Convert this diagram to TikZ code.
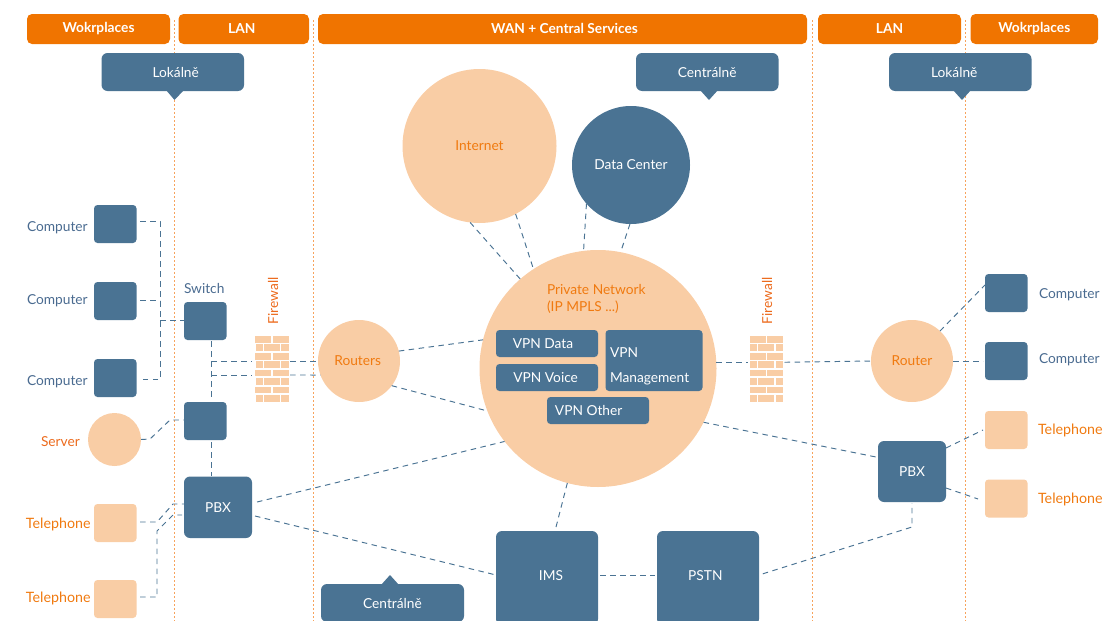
\documentclass[tikz,border=0pt]{standalone}
\usepackage{fontspec}
\setmainfont{Lato}
\definecolor{hdr}{HTML}{F07400}
\definecolor{bl}{HTML}{4A7393}
\definecolor{peach}{HTML}{F9CDA5}
\definecolor{lblblue}{HTML}{4A6B90}
\definecolor{lblor}{HTML}{F07A10}
\definecolor{lblred}{HTML}{EC6A1C}
\definecolor{dotc}{HTML}{F7A35C}
\tikzset{
  base/.style={inner sep=0pt,outer sep=0pt,font=\fontsize{10.3}{12}\selectfont},
  bluebox/.style={base,fill=bl,text=white,rounded corners=3.5*0.75pt},
  callout/.style={base,fill=bl,text=white,rounded corners=6*0.75pt},
  bigblue/.style={base,fill=bl,text=white,rounded corners=6*0.75pt},
  peachbox/.style={base,fill=peach,rounded corners=3.5*0.75pt},
  header/.style={base,fill=hdr,text=white,rounded corners=5*0.75pt,font=\fontsize{10.3}{12}\selectfont\bfseries},
  circ/.style={base,circle,fill=peach,text=lblor},
  circb/.style={base,circle,fill=bl,text=white},
  lab/.style={base,anchor=west},
  wire/.style={draw=bl,line width=0.72pt,dash pattern=on 5.5*0.75pt off 4.5*0.75pt},
  dotline/.style={draw=dotc,line width=0.75pt,dash pattern=on 1.5pt off 1.5pt},
  wall/.style={fill=peach},
  fwnode/.style={base,minimum width=33*0.75pt,minimum height=66*0.75pt},
}
% name, x1, y1, x2, y2, style, text
\newcommand{\bx}[7]{\node[#6,minimum width={(#4-#2)*0.75pt},minimum height={(#5-#3)*0.75pt}] (#1) at ({(#2+#4)/2},{(#3+#5)/2}) {#7};}
% name, cx, cy, radius, style, text
\newcommand{\crc}[6]{\node[#5,minimum size={2*#4*0.75pt}] (#1) at (#2,#3) {#6};}
% firewall: name, left x, top y
\newcommand{\brickwall}[3]{%
  \node[fwnode,anchor=north west] (#1) at (#2,#3) {};
  \foreach \i in {0,2,4,6} {
    \fill[wall] (#2,{#3+\i*8.43}) rectangle ++(16,6.7);
    \fill[wall] ({#2+17.5},{#3+\i*8.43}) rectangle ++(16,6.7);
    \fill[wall] ({#2+0.5},{#3+(\i+1)*8.43}) rectangle ++(7,6.7);
    \fill[wall] ({#2+8.5},{#3+(\i+1)*8.43}) rectangle ++(16,6.7);
    \fill[wall] ({#2+26},{#3+(\i+1)*8.43}) rectangle ++(7.5,6.7);
  }}
\begin{document}
\begin{tikzpicture}[x=0.75pt,y=-0.75pt]
\useasboundingbox (0,0) rectangle (1103,621);
% zone separators
\coordinate (s1t) at (174.5,20); \coordinate (s1b) at (174.5,621);
\coordinate (s2t) at (313.5,20); \coordinate (s2b) at (313.5,621);
\coordinate (s3t) at (812.5,20); \coordinate (s3b) at (812.5,621);
\coordinate (s4t) at (965,20);   \coordinate (s4b) at (965,621);
\draw[dotline] (s1t) -- (s1b);
\draw[dotline] (s2t) -- (s2b);
\draw[dotline] (s3t) -- (s3b);
\draw[dotline] (s4t) -- (s4b);
% headers
\bx{h1}{27}{14}{170}{44}{header}{\raisebox{0.75pt}{Wokrplaces}}
\bx{h2}{178.5}{14}{309}{44}{header}{\raisebox{0.75pt}{\hspace*{-3pt}LAN}}
\bx{h3}{318}{14}{807}{44}{header}{\raisebox{0.75pt}{\hspace*{3pt}WAN + Central Services}}
\bx{h4}{818}{14}{961}{44}{header}{\raisebox{0.75pt}{LAN}}
\bx{h5}{970.5}{14}{1098}{44}{header}{\raisebox{0.75pt}{Wokrplaces}}
% callouts
\fill[bl] (166,90) -- (174.5,100) -- (184,90) -- cycle;
\bx{c1}{101.5}{53}{244}{91}{callout}{\hspace*{4.5pt}Lokálně}
\fill[bl] (700,90) -- (709,100) -- (718,90) -- cycle;
\bx{c2}{636}{53}{778.5}{91}{callout}{Centrálně}
\fill[bl] (953,90) -- (962,100) -- (971,90) -- cycle;
\bx{c3}{889}{53}{1031.5}{91}{callout}{\hspace*{-9pt}Lokálně}
\fill[bl] (381,585) -- (390,575) -- (399,585) -- cycle;
\bx{c4}{321}{584}{464}{622}{callout}{Centrálně}
% left column
\bx{cl1}{94}{205}{136.5}{243}{bluebox}{}
\bx{cl2}{94}{282}{136.5}{320}{bluebox}{}
\bx{cl3}{94}{359}{136.5}{397}{bluebox}{}
\node[lab,text=lblblue] (tcl1) at (27,228) {Computer};
\node[lab,text=lblblue] (tcl2) at (27,301) {Computer};
\node[lab,text=lblblue] (tcl3) at (27,382) {Computer};
\crc{srv}{114.5}{439.5}{26.5}{circ}{}
\node[lab,text=lblred] (tsrv) at (41,442) {Server};
\bx{tl1}{94}{504}{136.5}{542}{peachbox}{}
\bx{tl2}{94}{580}{136.5}{618}{peachbox}{}
\node[lab,text=lblor,font=\fontsize{10.7}{12}\selectfont] (ttl1) at (26,524) {Telephone};
\node[lab,text=lblor,font=\fontsize{10.7}{12}\selectfont] (ttl2) at (26,598) {Telephone};
% LAN left
\bx{sw}{184}{302}{226.5}{340}{bluebox}{}
\node[lab,text=lblblue] (tsw) at (184,288) {Switch};
\bx{sw2}{184}{402}{226.5}{440}{bluebox}{}
\bx{pbxl}{184}{476.5}{252}{538}{bigblue}{PBX}
\brickwall{fwl}{255}{336}
\node[base,text=lblred,rotate=90] (tfwl) at (273,301) {Firewall};
% WAN
\crc{rts}{359}{361}{41}{circ}{\raisebox{0.75pt}{\hspace*{-2pt}Routers}}
\crc{inet}{479.5}{146}{77}{circ}{Internet}
\crc{dc}{631}{165}{59}{circb}{Data Center}
\crc{priv}{598}{368.5}{118.5}{circ}{}
\node[lab,text=lblor,align=left,font=\fontsize{10.3}{12.75}\selectfont] (tpriv) at (547,298.5) {Private Network\\(IP MPLS ...)};
\bx{vd}{496}{330}{598}{357}{bluebox}{\hspace*{-6pt}VPN Data}
\bx{vv}{496}{364}{598}{391}{bluebox}{\hspace*{-2pt}VPN Voice}
\bx{vm}{605.5}{330}{702.5}{391}{bluebox}{}
\node[lab,text=white,align=left,font=\fontsize{10.3}{18.75}\selectfont] (tvm) at (610,366) {VPN\\Management};
\bx{vo}{547}{397}{649}{424}{bluebox}{\hspace*{-14pt}VPN Other}
\bx{ims}{496}{531}{598}{625}{bigblue}{\raisebox{3pt}{\hspace*{6pt}IMS}}
\bx{pstn}{657}{531}{759}{625}{bigblue}{\raisebox{3pt}{\hspace*{-4pt}PSTN}}
% right side
\brickwall{fwr}{749.5}{336}
\node[base,text=lblred,rotate=90] (tfwr) at (767,301) {Firewall};
\crc{rtr}{912}{361}{41}{circ}{Router}
\bx{pbxr}{878}{441}{946}{502}{bigblue}{PBX}
\bx{cr1}{985}{274}{1027.5}{312}{bluebox}{}
\bx{cr2}{985}{342}{1027.5}{380}{bluebox}{}
\bx{tr1}{985}{411}{1027.5}{449}{peachbox}{}
\bx{tr2}{985}{479.5}{1027.5}{517.5}{peachbox}{}
\node[lab,text=lblblue] (tcr1) at (1039,295) {Computer};
\node[lab,text=lblblue] (tcr2) at (1039,360) {Computer};
\node[lab,text=lblor,font=\fontsize{10.7}{12}\selectfont] (ttr1) at (1038,430) {Telephone};
\node[lab,text=lblor,font=\fontsize{10.7}{12}\selectfont] (ttr2) at (1038,499) {Telephone};
% bends
\coordinate (b1) at (160,221);
\coordinate (b2) at (160,379);
\coordinate (b3) at (160,300);
\coordinate (b4) at (160,320);
\coordinate (j1) at (211,361);
\coordinate (j2) at (211,375);
\coordinate (b5) at (150,439);
\coordinate (b6) at (170,420);
\coordinate (b7) at (157,522);
\coordinate (b8) at (173,504);
\coordinate (b9) at (157,597);
\coordinate (b10) at (157,531);
\coordinate (b11) at (173,515);
\coordinate (b12) at (912,527);
\coordinate (a1) at (140,221);
\coordinate (a2) at (140,379);
\coordinate (a3) at (140,300);
\coordinate (a4) at (184,320);
\coordinate (a5) at (184,420);
\coordinate (a6) at (140,522);
\coordinate (a7) at (184,504);
\coordinate (a8) at (140,597);
\coordinate (a9) at (182,515);
\coordinate (a10) at (211,341);
\coordinate (a11) at (211,400);
\coordinate (a12) at (211,442);
\coordinate (a13) at (211,476);
\coordinate (a14) at (912,503);
\coordinate (a15) at (983,430);
\coordinate (a16) at (978,499);
\coordinate (a17) at (255,516);
\coordinate (a18) at (257,502);
\coordinate (a19) at (983,361);
\coordinate (a20) at (985,285);
\coordinate (a21) at (946,448);
\coordinate (a22) at (946,488);
\coordinate (a23) at (876,457);
% connectors
\draw[wire] (a1) -- (b1) -- (b2) -- (a2);
\draw[wire] (a3) -- (b3);
\draw[wire] (b4) -- (a4);
\draw[wire] (a10) -- (a11);
\draw[wire,shorten >=3*0.75pt] (j1) -- (j1 -| fwl.west);
\draw[wire,shorten >=3*0.75pt] (j2) -- (j2 -| fwl.west);
\draw[wire,shorten <=2*0.75pt] (j1 -| fwl.east) -- (rts.180);
\draw[wire,shorten <=2*0.75pt] (j2 -| fwl.east) -- (rts.200);
\draw[wire] (srv.0) -- (b5) -- (b6) -- (a5);
\draw[wire] (a12) -- (a13);
\draw[wire] (a6) -- (b7) -- (b8) -- (a7);
\draw[wire] (a8) -- (b9) -- (b10) -- (b11) -- (a9);
\draw[wire] (a18) -- (priv.218);
\draw[wire] (a17) -- (ims.west |- 0,575);
\draw[wire] (rts.14) -- (priv.166);
\draw[wire] (rts.323) -- (priv.201);
\draw[wire] (inet.263.6) -- (priv.131);
\draw[wire] (inet.298) -- (priv.123.4);
\draw[wire] (dc.221.6) -- (priv.97);
\draw[wire] (dc.269) -- (priv.79);
\draw[wire] (priv.255) -- (ims.north -| 555,531);
\draw[wire,shorten <=2*0.75pt,shorten >=2*0.75pt] (ims.east |- 0,575) -- (pstn.west |- 0,575);
\draw[wire,shorten <=4*0.75pt] (pstn.east |- 0,575) -- (b12) -- (a14);
\draw[wire] (priv.333) -- (a23);
\draw[wire,shorten >=2*0.75pt] (priv.3.6) -- (priv.3.6 -| fwr.west);
\draw[wire,shorten <=2*0.75pt] (priv.3.6 -| fwr.east) -- (rtr.180);
\draw[wire] (rtr.47) -- (a20);
\draw[wire] (rtr.0) -- (a19);
\draw[wire] (a21) -- (a15);
\draw[wire] (a22) -- (a16);
\end{tikzpicture}
\end{document}
